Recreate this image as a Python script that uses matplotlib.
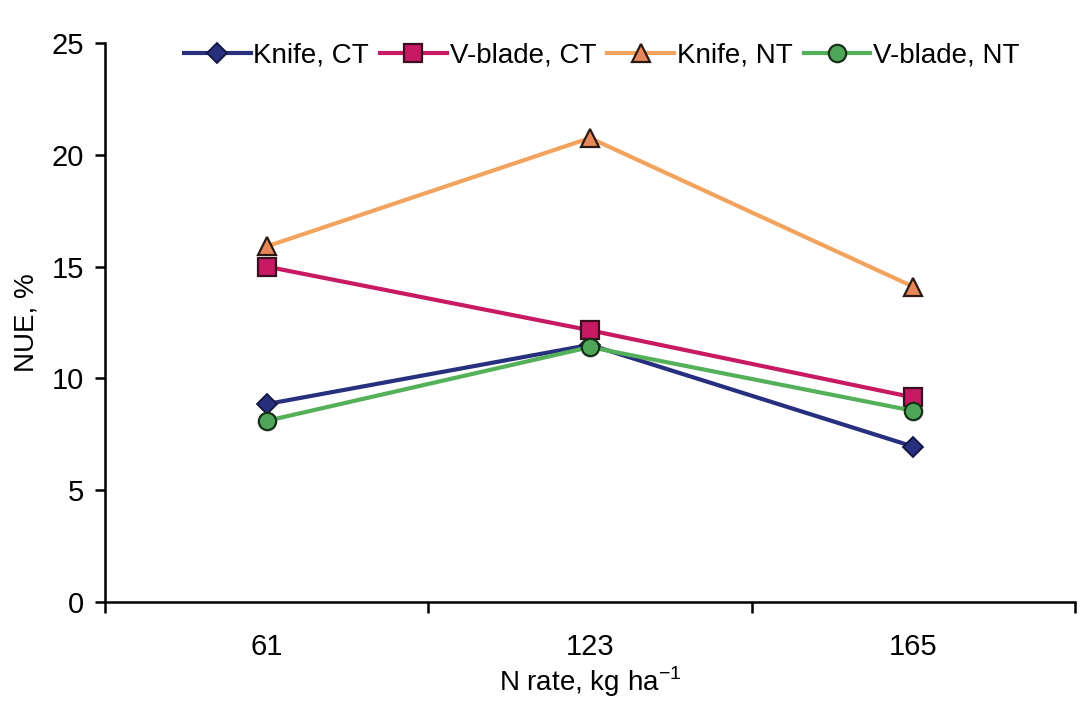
#NUE by N rate for knife / V-blade under CT and NT

#import libraries
import matplotlib
matplotlib.use("Agg")
import matplotlib.pyplot as plt

#data
n_rates = ["61", "123", "165"]
knife_ct = [8.85, 11.5, 6.95]
vblade_ct = [15.0, 12.15, 9.15]
knife_nt = [15.9, 20.75, 14.1]
vblade_nt = [8.1, 11.4, 8.55]

plt.rcParams["font.family"] = ["Liberation Sans", "DejaVu Sans"]
plt.rcParams["mathtext.fontset"] = "custom"
plt.rcParams["mathtext.rm"] = "Liberation Sans"

fig = plt.figure(figsize = (10.8, 7.16), dpi = 100)
ax = fig.add_axes([0.0972, 0.1592, 0.8982, 0.7808])

x = range(len(n_rates))
ax.plot(x, knife_ct, color = "#27307f", lw = 3, marker = "D", ms = 10,
        mfc = "#27307f", mec = "#141440", mew = 1.3, label = "Knife, CT")
ax.plot(x, vblade_ct, color = "#c81a63", lw = 3, marker = "s", ms = 12.5,
        mfc = "#c81a63", mec = "#3a1020", mew = 1.6, label = "V-blade, CT")
ax.plot(x, knife_nt, color = "#f2a35e", lw = 3, marker = "^", ms = 13.5,
        mfc = "#e8885a", mec = "#2a1a14", mew = 1.6, label = "Knife, NT")
ax.plot(x, vblade_nt, color = "#55b05a", lw = 3, marker = "o", ms = 12.5,
        mfc = "#4fa558", mec = "#173018", mew = 1.6, label = "V-blade, NT")

#axes
ax.set_xlim(-0.5, 2.5)
ax.set_ylim(0, 25)
ax.set_yticks([0, 5, 10, 15, 20, 25])
ax.set_xticks([-0.5, 0.5, 1.5, 2.5])
ax.set_xticklabels([])
ax.set_xticks([0, 1, 2], minor = True)
ax.set_xticklabels(n_rates, minor = True)
ax.tick_params(axis = "x", which = "minor", length = 0, pad = 22, labelsize = 21)
ax.tick_params(axis = "x", which = "major", length = 8, width = 1.8, direction = "out")
ax.tick_params(axis = "y", length = 7, width = 1.8, direction = "out", labelsize = 21, pad = 8)
for side in ["top", "right"]:
    ax.spines[side].set_visible(False)
for side in ["left", "bottom"]:
    ax.spines[side].set_linewidth(1.8)

ax.set_ylabel("NUE, %", fontsize = 20, labelpad = 9)
ax.set_xlabel("N rate, kg ha$^{\\mathrm{-1}}$", fontsize = 20, labelpad = 3)

ax.legend(loc = "upper center", bbox_to_anchor = (0.512, 1.045), ncol = 4, frameon = False,
          fontsize = 20, handlelength = 2.4, handletextpad = 0.1, columnspacing = 0.4)

plt.savefig("out.png", dpi = 100)
